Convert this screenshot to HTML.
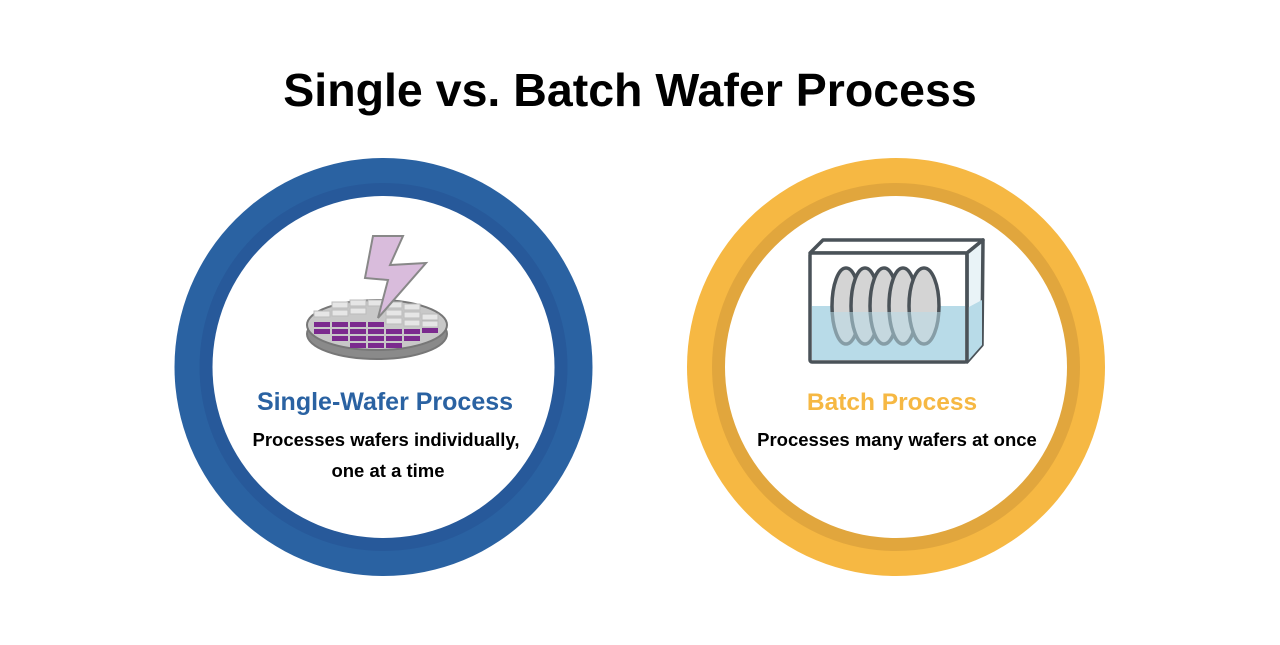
<!DOCTYPE html>
<html><head><style>
body{margin:0;background:#fff;width:1280px;height:640px;overflow:hidden}
</style></head><body>
<svg width="1280" height="640" xmlns="http://www.w3.org/2000/svg" font-family="Liberation Sans, Arial, sans-serif">
<text x="630" y="106" text-anchor="middle" font-size="46.5" font-weight="bold" fill="#000">Single vs. Batch Wafer Process</text>
<!-- Left circle -->
<circle cx="383.5" cy="367" r="209" fill="#2a62a2"/>
<circle cx="383.5" cy="367" r="184" fill="#27599a"/>
<circle cx="383.5" cy="367" r="171" fill="#fff"/>
<!-- wafer -->
<ellipse cx="377" cy="334" rx="70" ry="25" fill="#8a8a8a" stroke="#777" stroke-width="2"/>
<ellipse cx="377" cy="325" rx="70" ry="25" fill="#c8c8c8" stroke="#777" stroke-width="2"/>
<g fill="#e6e6e6" stroke="#bbb" stroke-width="1">
<rect x="332" y="302" width="16" height="6"/><rect x="350" y="300" width="16" height="6"/><rect x="368" y="300" width="16" height="6"/><rect x="386" y="302" width="16" height="6"/><rect x="404" y="304" width="16" height="6"/>
<rect x="314" y="311" width="16" height="6"/><rect x="332" y="310" width="16" height="6"/><rect x="350" y="308" width="16" height="6"/><rect x="386" y="310" width="16" height="6"/><rect x="404" y="312" width="16" height="6"/><rect x="422" y="314" width="16" height="6"/>
<rect x="404" y="320" width="16" height="6"/><rect x="422" y="321" width="16" height="6"/><rect x="386" y="318" width="16" height="6"/>
</g>
<g fill="#7b2a8e">
<rect x="314" y="322" width="16" height="5"/><rect x="332" y="322" width="16" height="5"/><rect x="350" y="322" width="16" height="5"/><rect x="368" y="322" width="16" height="5"/>
<rect x="314" y="329" width="16" height="5"/><rect x="332" y="329" width="16" height="5"/><rect x="350" y="329" width="16" height="5"/><rect x="368" y="329" width="16" height="5"/><rect x="386" y="329" width="16" height="5"/><rect x="404" y="329" width="16" height="5"/><rect x="422" y="328" width="16" height="5"/>
<rect x="332" y="336" width="16" height="5"/><rect x="350" y="336" width="16" height="5"/><rect x="368" y="336" width="16" height="5"/><rect x="386" y="336" width="16" height="5"/><rect x="404" y="336" width="16" height="5"/>
<rect x="350" y="343" width="16" height="5"/><rect x="368" y="343" width="16" height="5"/><rect x="386" y="343" width="16" height="5"/>
</g>
<polygon points="373,236 403,236 390,265 426,263 378,318 388,280 365,278" fill="#d9bcdc" stroke="#888" stroke-width="2"/>
<text x="385" y="410" text-anchor="middle" font-size="25" font-weight="bold" fill="#2a62a2">Single-Wafer Process</text>
<text x="386" y="446" text-anchor="middle" font-size="18.5" font-weight="bold" fill="#000">Processes wafers individually,</text>
<text x="388" y="477" text-anchor="middle" font-size="18.5" font-weight="bold" fill="#000">one at a time</text>
<!-- Right circle -->
<circle cx="896" cy="367" r="209" fill="#f6b843"/>
<circle cx="896" cy="367" r="184" fill="#e1a63d"/>
<circle cx="896" cy="367" r="171" fill="#fff"/>
<!-- tank -->
<polygon points="810,253 823,240 983,240 967,253" fill="#fff" stroke="#4a5258" stroke-width="3.5" stroke-linejoin="round"/>
<rect x="810" y="253" width="157" height="109" fill="#fff"/>
<rect x="812" y="306" width="153" height="54" fill="#b8dbe8"/>
<polygon points="967,253 983,240 982,345 967,362" fill="#e9f3f7" stroke="#4a5258" stroke-width="3.5" stroke-linejoin="round"/>
<polygon points="967,308 982,300 982,345 967,362" fill="#b8dbe8"/>
<g stroke="#4a5258" stroke-width="3.5" fill="#d4d4d4">
<ellipse cx="846" cy="306" rx="14" ry="38"/><ellipse cx="865" cy="306" rx="14" ry="38"/><ellipse cx="884" cy="306" rx="14" ry="38"/><ellipse cx="903" cy="306" rx="14" ry="38"/><ellipse cx="924" cy="306" rx="15" ry="38"/>
</g>
<rect x="812" y="312" width="153" height="48" fill="#b8dbe8" opacity="0.55"/>
<rect x="810" y="253" width="157" height="109" fill="none" stroke="#4a5258" stroke-width="3.5" rx="2"/>
<text x="892" y="410" text-anchor="middle" font-size="24.5" font-weight="bold" fill="#f6b843">Batch Process</text>
<text x="897" y="446" text-anchor="middle" font-size="18.5" font-weight="bold" fill="#000">Processes many wafers at once</text>
</svg>
</body></html>
